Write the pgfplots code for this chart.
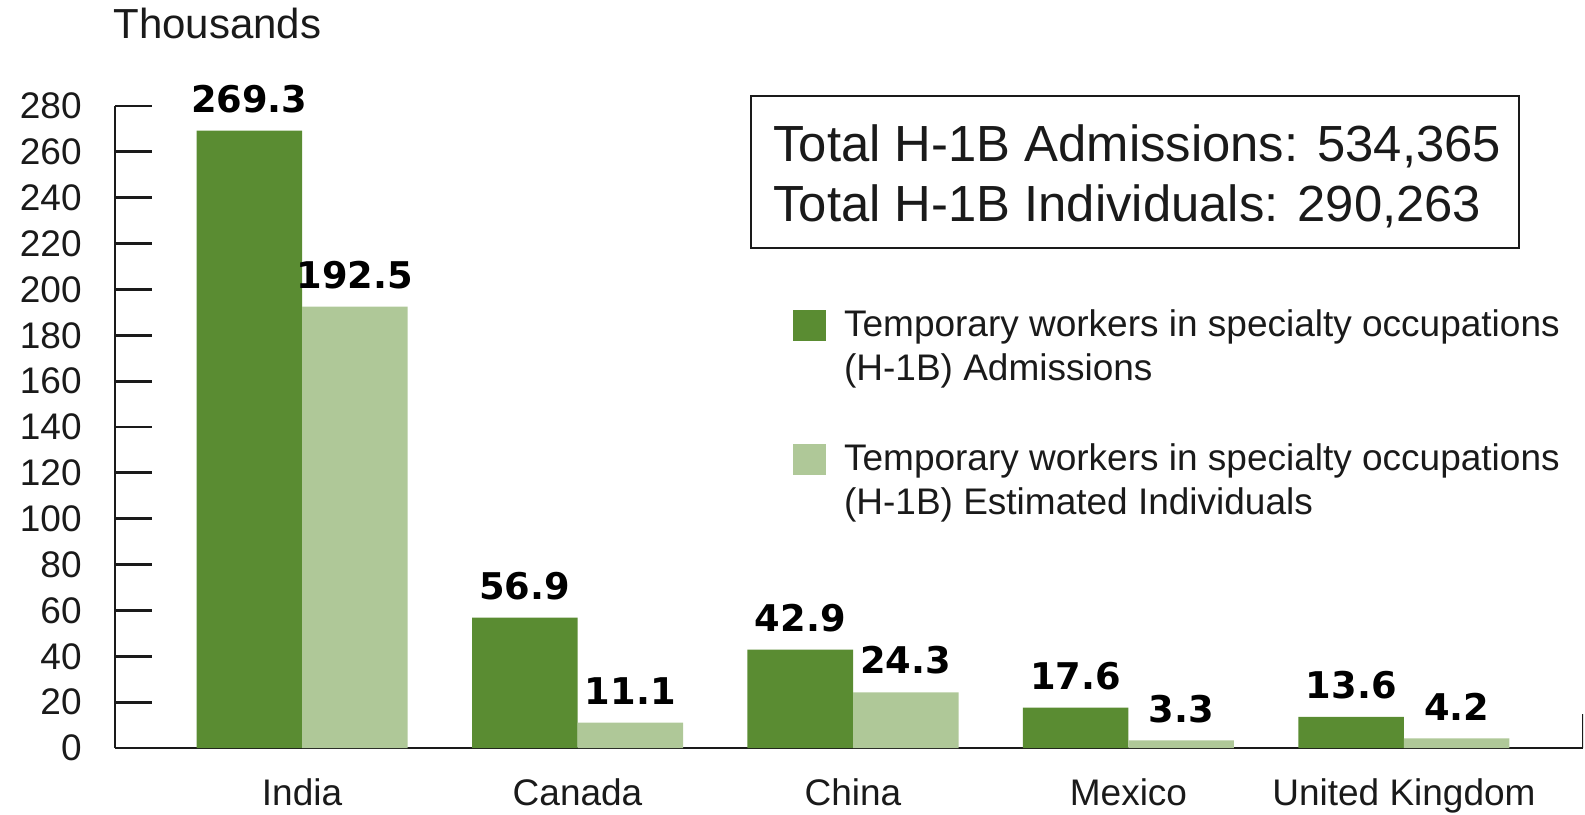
\documentclass[border=0pt]{standalone}
\usepackage{fontspec}
\setmainfont{Liberation Sans}
\newfontfamily\dvb{DejaVu Sans Bold}
\usepackage{pgfplots}
\pgfplotsset{compat=1.18}
\definecolor{dg}{RGB}{90,140,50}
\definecolor{lg}{RGB}{175,200,152}
\definecolor{ink}{RGB}{26,26,26}
\begin{document}
\begin{tikzpicture}
\useasboundingbox (0,0) rectangle (792.5pt,407pt);
\begin{axis}[
  at={(57.5pt,33pt)}, anchor=south west,
  scale only axis, width=734pt, height=321pt,
  xmin=-0.679, xmax=4.65, ymin=0, ymax=280,
  axis x line=bottom, axis y line=left,
  axis line style={line width=1.4pt, ink, -},
  ytick={0,20,...,280},
  ytick align=inside,
  xtick align=inside,
  major tick length=18.5pt,
  ytick style={line width=1.4pt, ink},
  xtick={0,1,2,3,4},
  xticklabels={India,Canada,China,Mexico,United Kingdom},
  xtick style={draw=none},
  ticklabel style={font=\fontsize{18.5pt}{22pt}\selectfont, text=ink, inner sep=0pt},
  /pgf/number format/assume math mode=true,
  yticklabel style={anchor=east, xshift=-16.5pt},
  xticklabel style={anchor=north, yshift=3.5pt},
  ybar=0pt, bar width=0.383,
  point meta=explicit symbolic,
  nodes near coords,
  nodes near coords style={font=\dvb\fontsize{18.4pt}{20pt}\selectfont, text=black, anchor=south, inner sep=0pt, yshift=8.75pt},
  legend style={at={(0.4619,0.695)}, anchor=north west, draw=none, fill=none, inner sep=0pt, outer sep=0pt, row sep=46pt, column sep=7pt, font=\fontsize{18.5pt}{22pt}\selectfont, text=ink, cells={anchor=base west, inner sep=0pt}},
  legend image code/.code={\fill[#1] (0pt,-2.15pt) rectangle (16.5pt,13.35pt);},
]
\addplot[fill=dg, draw=none, bar shift=-0.1915] coordinates {(0,269.3)[269.3] (1,56.9)[56.9] (2,42.9)[42.9] (3,17.6)[17.6] (4,13.6)[13.6]};
\addlegendentry{\begin{tabular}[t]{@{}l@{}}Temporary workers in specialty occupations\\(H-1B) Admissions\end{tabular}}
\addplot[fill=lg, draw=none, bar shift=0.1915] coordinates {(0,192.5)[192.5] (1,11.1)[11.1] (2,24.3)[24.3] (3,3.3)[3.3] (4,4.2)[4.2]};
\addlegendentry{\begin{tabular}[t]{@{}l@{}}Temporary workers in specialty occupations\\(H-1B) Estimated Individuals\end{tabular}}
\draw[line width=1.4pt, ink] (axis description cs:1,0) -- (axis description cs:1,0.053);
\end{axis}
\draw[line width=1.3pt, ink] (375.5pt,283pt) rectangle (759.5pt,359pt);
\node[anchor=base west, inner sep=0pt, font=\fontsize{25.4pt}{30pt}\selectfont, text=ink] at (386.5pt,326pt) {Total H-1B Admissions: 534,365};
\node[anchor=base west, inner sep=0pt, font=\fontsize{25.4pt}{30pt}\selectfont, text=ink] at (386.5pt,296pt) {Total H-1B Individuals: 290,263};
\node[anchor=base west, inner sep=0pt, font=\fontsize{21pt}{25pt}\selectfont, text=ink] at (56.5pt,387.5pt) {Thousands};
\end{tikzpicture}
\end{document}
